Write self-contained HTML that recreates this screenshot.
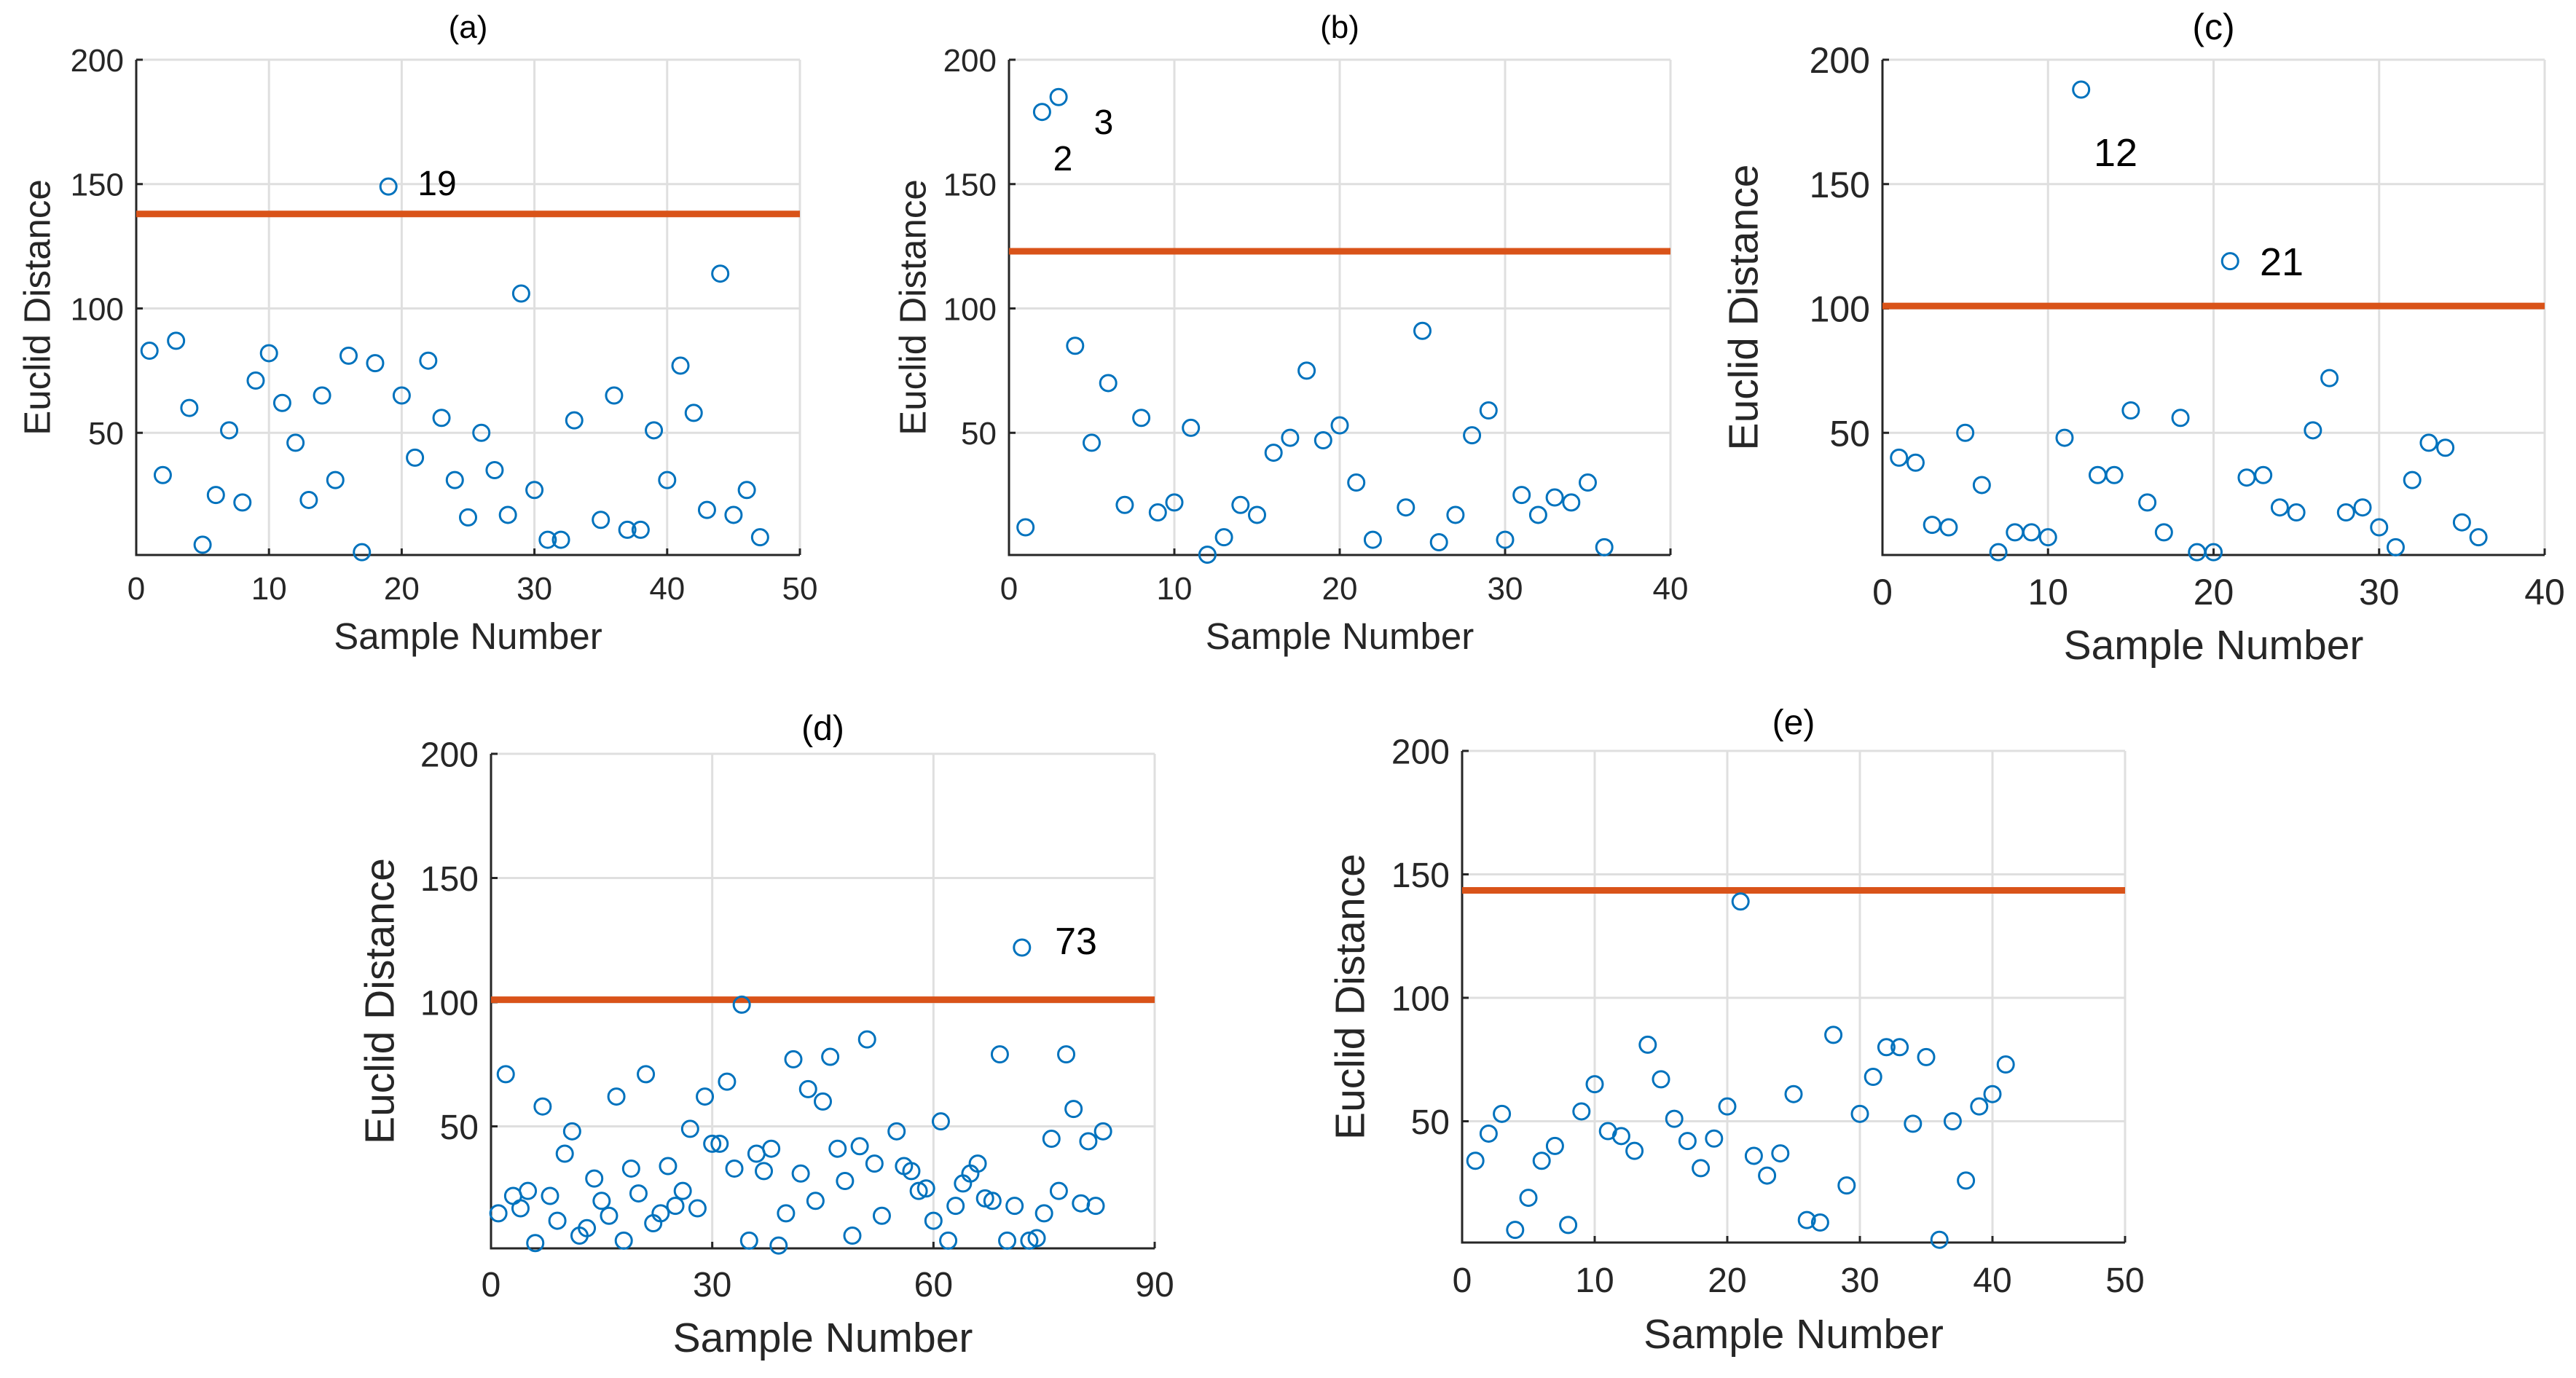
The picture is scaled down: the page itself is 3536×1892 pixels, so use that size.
<!DOCTYPE html>
<html><head><meta charset="utf-8">
<style>
html,body{margin:0;padding:0;background:#fff;}
svg{display:block;font-family:"Liberation Sans",Arial,sans-serif;}
</style></head>
<body>
<svg id="fig" width="3536" height="1892" viewBox="0 0 3536 1892" xmlns="http://www.w3.org/2000/svg"></svg>
<script>
// Panel (a)
const aX = [1,2,3,4,5,6,7,8,9,10,11,12,13,14,15,16,17,18,19,20,21,22,23,24,25,26,27,28,29,30,31,32,33,35,36,37,38,39,40,41,42,43,44,45,46,47];
const aY = [83,33,87,60,5,25,51,22,71,82,62,46,23,65,31,81,2,78,149,65,40,79,56,31,16,50,35,17,106,27,7,7,55,15,65,11,11,51,31,77,58,19,114,17,27,8];
const aThreshold = 138;
// Panel (b)
const bX = [1,2,3,4,5,6,7,8,9,10,11,12,13,14,15,16,17,18,19,20,21,22,24,25,26,27,28,29,30,31,32,33,34,35,36];
const bY = [12,179,185,85,46,70,21,56,18,22,52,1,8,21,17,42,48,75,47,53,30,7,20,91,6,17,49,59,7,25,17,24,22,30,4];
const bThreshold = 123;
// Panel (c)
const cX = [1,2,3,4,5,6,7,8,9,10,11,12,13,14,15,16,17,18,19,20,21,22,23,24,25,26,27,28,29,30,31,32,33,34,35,36];
const cY = [40,38,13,12,50,29,2,10,10,8,48,188,33,33,59,22,10,56,2,2,119,32,33,20,18,51,72,18,20,12,4,31,46,44,14,8];
const cThreshold = 101;
// Panel (d)
const dX = [1,2,3,4,5,6,7,8,9,10,11,12,13,14,15,16,17,18,19,20,21,22,23,24,25,26,27,28,29,30,31,32,33,34,35,36,37,38,39,40,41,42,43,44,45,46,47,48,49,50,51,52,53,55,56,57,58,59,60,61,62,63,64,65,66,67,68,69,70,71,72,73,74,75,76,77,78,79,80,81,82,83];
const dY = [15,71,22,17,24,3,58,22,12,39,48,6,9,29,20,14,62,4,33,23,71,11,15,34,18,24,49,17,62,43,43,68,33,99,4,39,32,41,2,15,77,31,65,20,60,78,41,28,6,42,85,35,14,48,34,32,24,25,12,52,4,18,27,31,35,21,20,79,4,18,122,4,5,15,45,24,79,57,19,44,18,48];
const dThreshold = 101;
// Panel (e)
const eX = [1,2,3,4,5,6,7,8,9,10,11,12,13,14,15,16,17,18,19,20,21,22,23,24,25,26,27,28,29,30,31,32,33,34,35,36,37,38,39,40,41];
const eY = [34,45,53,6,19,34,40,8,54,65,46,44,38,81,67,51,42,31,43,56,139,36,28,37,61,10,9,85,24,53,68,80,80,49,76,2,50,26,56,61,73];
const eThreshold = 143.5;
// tick labels
const xTicksA = [0,10,20,30,40,50];
const xTicksB = [0,10,20,30,40];
const xTicksD = [0,30,60,90];
const yTicks = [50,100,150,200];

const NS = "http://www.w3.org/2000/svg";
const svg = document.getElementById('fig');
function mk(tag, attrs, parent){
  const el = document.createElementNS(NS, tag);
  for (const k in attrs) el.setAttribute(k, attrs[k]);
  (parent||svg).appendChild(el);
  return el;
}
const panels = [
  {id:'a', xs:aX, ys:aY, thr:aThreshold, xt:xTicksA, xmax:50, L:187, R:1098, T:82, B:762, fs:44, ls:51, title:'(a)', ylx:50, xly:891, tly:823, ttlY:52,
   notes:[['19',600,268]]},
  {id:'b', xs:bX, ys:bY, thr:bThreshold, xt:xTicksB, xmax:40, L:1385, R:2293, T:82, B:762, fs:44, ls:51, title:'(b)', ylx:1252, xly:891, tly:823, ttlY:52,
   notes:[['3',1515,184],['2',1459,234]]},
  {id:'c', xs:cX, ys:cY, thr:cThreshold, xt:xTicksB, xmax:40, L:2584, R:3493, T:82, B:762, fs:50, ls:57, title:'(c)', ylx:2392, xly:905, tly:830, ttlY:54,
   notes:[['12',2904,228],['21',3132,378]]},
  {id:'d', xs:dX, ys:dY, thr:dThreshold, xt:xTicksD, xmax:90, L:674, R:1585, T:1035, B:1714, fs:48, ls:57, title:'(d)', ylx:520, xly:1856, tly:1780, ttlY:1016,
   notes:[['73',1477,1310]]},
  {id:'e', xs:eX, ys:eY, thr:eThreshold, xt:xTicksA, xmax:50, L:2007, R:2917, T:1031, B:1706, fs:48, ls:57, title:'(e)', ylx:1852, xly:1851, tly:1774, ttlY:1008,
   notes:[]}
];
panels.forEach(p=>{
  const g = mk('g',{});
  
  
  const sx = v => p.L + (v/p.xmax)*(p.R-p.L);
  const sy = v => p.B + 3 - (v/200)*(p.B + 3 - p.T);
  p.xt.forEach(t=>{
    if (t===0) return;
    const gl = mk('line',{x1:sx(t),x2:sx(t),y1:p.T,y2:p.B,stroke:'#dfdfdf','stroke-width':3},g);
    
    
  });
  yTicks.forEach(t=>{
    const gl = mk('line',{x1:p.L,x2:p.R,y1:sy(t),y2:sy(t),stroke:'#dfdfdf','stroke-width':3},g);
    
    
  });
  const ax = mk('path',{d:`M${p.L},${p.T} V${p.B} H${p.R}`,fill:'none',stroke:'#262626','stroke-width':3},g);
  
  
  p.xt.forEach(t=>{
    mk('line',{x1:sx(t),x2:sx(t),y1:p.B,y2:p.B-9,stroke:'#262626','stroke-width':3},g);
    const tl = mk('text',{x:sx(t),y:p.tly,'font-size':p.fs,'text-anchor':'middle',fill:'#262626'},g);
    tl.textContent = t;
    
    
  });
  yTicks.forEach(t=>{
    mk('line',{x1:p.L,x2:p.L+9,y1:sy(t),y2:sy(t),stroke:'#262626','stroke-width':3},g);
    const tl = mk('text',{x:p.L-17,y:sy(t)+p.fs*0.36,'font-size':p.fs,'text-anchor':'end',fill:'#262626'},g);
    tl.textContent = t;
    
    
  });
  const th = mk('line',{x1:p.L,x2:p.R,y1:sy(p.thr),y2:sy(p.thr),stroke:'#D95319','stroke-width':9},g);
  
  
  p.xs.forEach((xv,i)=>{
    const c = mk('circle',{cx:sx(xv),cy:sy(p.ys[i]),r:11,fill:'none',stroke:'#0072BD','stroke-width':3},g);
    
    
  });
  const tt = mk('text',{x:(p.L+p.R)/2,y:p.ttlY,'font-size':p.fs,'text-anchor':'middle',fill:'#000'},g);
  tt.textContent = p.title;
  
  
  const xl = mk('text',{x:(p.L+p.R)/2,y:p.xly,'font-size':p.ls,'text-anchor':'middle',fill:'#262626'},g);
  xl.textContent = 'Sample Number';
  
  
  const cy = (p.T+p.B)/2;
  const yl = mk('text',{x:p.ylx+p.ls*0.36,y:cy,'font-size':p.ls,'text-anchor':'middle',fill:'#262626',transform:`rotate(-90 ${p.ylx+p.ls*0.36} ${cy})`},g);
  yl.textContent = 'Euclid Distance';
  
  
  p.notes.forEach(n=>{
    const a = mk('text',{x:n[1],y:n[2],'font-size':p.fs+4,'text-anchor':'middle',fill:'#000'},g);
    a.textContent = n[0];
    
    
  });
});
</script>
</body></html>
